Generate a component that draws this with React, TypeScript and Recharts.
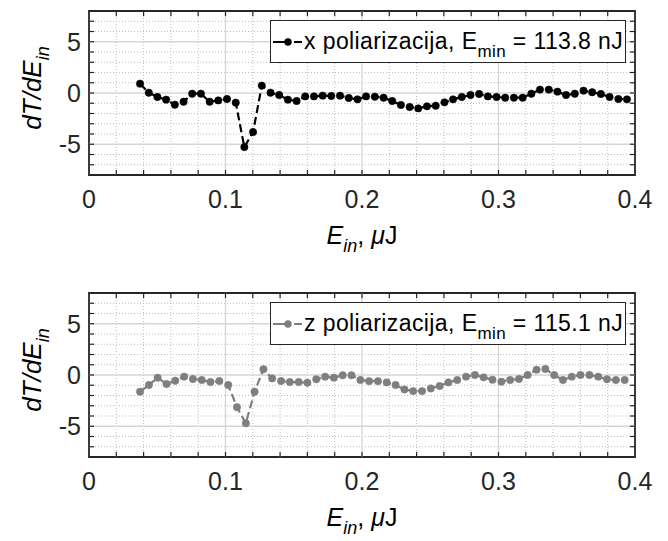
import { Legend, Line, LineChart, ReferenceArea, ReferenceLine, XAxis, YAxis } from 'recharts';

const FONT = '"Liberation Sans", Arial, Helvetica, sans-serif';

// x polarisation, pulse energy in uJ
const xTop = [
  0.0374, 0.0438, 0.0501, 0.0565, 0.0629, 0.0693, 0.0756, 0.082, 0.0884, 0.0947,
  0.1011, 0.1075, 0.1138, 0.1202, 0.1266, 0.133, 0.1393, 0.1457, 0.1521, 0.1584,
  0.1648, 0.1712, 0.1775, 0.1839, 0.1903, 0.1967, 0.203, 0.2094, 0.2158, 0.2221,
  0.2285, 0.2349, 0.2412, 0.2476, 0.254, 0.2604, 0.2667, 0.2731, 0.2795, 0.2858,
  0.2922, 0.2986, 0.3049, 0.3113, 0.3177, 0.3241, 0.3304, 0.3368, 0.3432, 0.3495,
  0.3559, 0.3623, 0.3686, 0.375, 0.3814, 0.3878, 0.3941,
];
const yTop = [
  0.91, 0.03, -0.39, -0.65, -1.14, -0.85, -0.07, -0.07, -0.85, -0.72,
  -0.59, -0.94, -5.28, -3.81, 0.72, 0.03, -0.2, -0.65, -0.78, -0.33,
  -0.33, -0.26, -0.29, -0.26, -0.49, -0.62, -0.33, -0.36, -0.46, -0.78,
  -1.17, -1.37, -1.5, -1.3, -1.24, -0.91, -0.62, -0.39, -0.2, -0.1,
  -0.33, -0.39, -0.46, -0.46, -0.46, -0.07, 0.33, 0.33, 0.13, -0.2,
  -0.07, 0.23, 0.07, -0.1, -0.39, -0.59, -0.62,
];

// z polarisation
const xBottom = [
  0.0374, 0.0439, 0.0503, 0.0568, 0.0632, 0.0697, 0.0761, 0.0826, 0.089, 0.0955,
  0.102, 0.1084, 0.1149, 0.1213, 0.1278, 0.1342, 0.1407, 0.1471, 0.1536, 0.16,
  0.1665, 0.173, 0.1794, 0.1859, 0.1923, 0.1988, 0.2052, 0.2117, 0.2181, 0.2246,
  0.2311, 0.2375, 0.244, 0.2504, 0.2569, 0.2633, 0.2698, 0.2762, 0.2827, 0.2891,
  0.2956, 0.3021, 0.3085, 0.315, 0.3214, 0.3279, 0.3343, 0.3408, 0.3472, 0.3537,
  0.3601, 0.3666, 0.3731, 0.3795, 0.386, 0.3924,
];
const yBottom = [
  -1.63, -0.98, -0.26, -0.88, -0.56, -0.16, -0.39, -0.49, -0.69, -0.59,
  -0.98, -3.14, -4.71, -1.63, 0.56, -0.33, -0.59, -0.69, -0.69, -0.75,
  -0.42, -0.16, -0.26, -0.03, -0.03, -0.49, -0.6, -0.6, -0.72, -0.98,
  -1.41, -1.57, -1.57, -1.31, -1.08, -0.72, -0.49, -0.16, 0, -0.23,
  -0.46, -0.65, -0.49, -0.39, 0, 0.52, 0.59, 0, -0.49, -0.16,
  0, 0, -0.16, -0.42, -0.49, -0.49,
];

const xTicks = [0, 0.1, 0.2, 0.3, 0.4];
const yTicks = [-5, 0, 5];
const xMinor = [
  0.02, 0.04, 0.06, 0.08, 0.12, 0.14, 0.16, 0.18, 0.22, 0.24,
  0.26, 0.28, 0.32, 0.34, 0.36, 0.38,
];
const yMinor = [-7, -6, -4, -3, -2, -1, 1, 2, 3, 4, 6, 7];

const X_DOMAIN = [0, 0.4];
const Y_DOMAIN = [-8, 8];
const PLOT_H = 164;
const AXIS_COLOR = '#262626';
// tick length, in data units (about 5px)
const TICK_Y = 0.5;
const TICK_X = 0.0037;

function LegendBox({ color, label, eMin }: { color: string; label: string; eMin: string }) {
  return (
    <div
      style={{
        width: 356,
        height: 43,
        boxSizing: 'border-box',
        border: `1.5px solid ${AXIS_COLOR}`,
        background: '#fff',
        display: 'flex',
        alignItems: 'center',
        fontFamily: FONT,
        fontSize: 23,
        color: '#000',
        whiteSpace: 'nowrap',
      }}
    >
      <svg width={31} height={14} style={{ marginLeft: 1, flex: 'none' }}>
        <line x1={1} y1={7} x2={30} y2={7} stroke={color} strokeWidth={2.2} strokeDasharray="15 6 9" />
        <circle cx={16} cy={7} r={3.7} fill={color} />
      </svg>
      <span style={{ marginLeft: 1, letterSpacing: 0.4 }}>
        {label}, E
        <span style={{ fontSize: 17, position: 'relative', top: 8 }}>min</span> = {eMin} nJ
      </span>
    </div>
  );
}

function XLabel({ viewBox }: any) {
  const cx = viewBox.x + viewBox.width / 2;
  const y = viewBox.y + 69;
  return (
    <text x={cx} y={y} textAnchor="middle" fontFamily={FONT} fontSize={25} fill="#000">
      <tspan fontStyle="italic">E</tspan>
      <tspan fontStyle="italic" fontSize={18} dy={8}>in</tspan>
      <tspan dy={-8}>, </tspan>
      <tspan fontStyle="italic">μ</tspan>
      <tspan>J</tspan>
    </text>
  );
}

function YLabel({ viewBox }: any) {
  const cx = 41;
  const cy = viewBox.y + viewBox.height / 2 - 5;
  return (
    <text
      x={cx}
      y={cy}
      transform={`rotate(-90, ${cx}, ${cy})`}
      textAnchor="middle"
      fontFamily={FONT}
      fontSize={26}
      fill="#000"
    >
      <tspan fontStyle="italic">dT/dE</tspan>
      <tspan fontStyle="italic" fontSize={18} dy={8}>in</tspan>
    </text>
  );
}

interface PanelProps {
  xs: number[];
  ys: number[];
  color: string;
  label: string;
  eMin: string;
  top: number;
  height: number;
}

function Panel({ xs, ys, color, label, eMin, top, height }: PanelProps) {
  const data = xs.map((x, i) => ({ x, y: ys[i] }));
  const tickStyle = { fontFamily: FONT, fontSize: 25, fill: '#262626' };
  return (
    <div style={{ position: 'absolute', left: 0, top }}>
      <LineChart width={668} height={height} data={data} margin={{ top: 11, right: 33, bottom: 0, left: 0 }}>
        <XAxis
          type="number"
          dataKey="x"
          domain={X_DOMAIN}
          ticks={xTicks}
          tickFormatter={(v) => String(v)}
          height={height - 11 - PLOT_H}
          axisLine={false}
          tickLine={false}
          tickSize={0}
          tickMargin={15}
          tick={tickStyle}
          label={{ content: XLabel }}
        />
        <YAxis
          type="number"
          domain={Y_DOMAIN}
          ticks={yTicks}
          width={89}
          axisLine={false}
          tickLine={false}
          tickSize={0}
          tickMargin={8}
          tick={tickStyle}
          label={{ content: YLabel }}
        />

        {xMinor.map((v) => (
          <ReferenceLine key={`gx${v}`} x={v} stroke="#bdbdbd" strokeWidth={1} strokeDasharray="1 2" />
        ))}
        {yMinor.map((v) => (
          <ReferenceLine key={`gy${v}`} y={v} stroke="#bdbdbd" strokeWidth={1} strokeDasharray="1 2" />
        ))}
        {xTicks.slice(1, -1).map((v) => (
          <ReferenceLine key={`Gx${v}`} x={v} stroke="#d6d6d6" strokeWidth={1.3} />
        ))}
        {yTicks.map((v) => (
          <ReferenceLine key={`Gy${v}`} y={v} stroke="#d6d6d6" strokeWidth={1.3} />
        ))}

        {[...xTicks.slice(1, -1), ...xMinor].map((v) => (
          <ReferenceLine
            key={`tb${v}`}
            segment={[{ x: v, y: Y_DOMAIN[0] }, { x: v, y: Y_DOMAIN[0] + TICK_Y }]}
            stroke={AXIS_COLOR}
            strokeWidth={1.2}
          />
        ))}
        {[...xTicks.slice(1, -1), ...xMinor].map((v) => (
          <ReferenceLine
            key={`tt${v}`}
            segment={[{ x: v, y: Y_DOMAIN[1] }, { x: v, y: Y_DOMAIN[1] - TICK_Y }]}
            stroke={AXIS_COLOR}
            strokeWidth={1.2}
          />
        ))}
        {[...yTicks, ...yMinor].map((v) => (
          <ReferenceLine
            key={`tl${v}`}
            segment={[{ x: X_DOMAIN[0], y: v }, { x: X_DOMAIN[0] + TICK_X, y: v }]}
            stroke={AXIS_COLOR}
            strokeWidth={1.2}
          />
        ))}
        {[...yTicks, ...yMinor].map((v) => (
          <ReferenceLine
            key={`tr${v}`}
            segment={[{ x: X_DOMAIN[1], y: v }, { x: X_DOMAIN[1] - TICK_X, y: v }]}
            stroke={AXIS_COLOR}
            strokeWidth={1.2}
          />
        ))}

        <Line
          type="linear"
          dataKey="y"
          stroke={color}
          strokeWidth={2.2}
          strokeDasharray="8 4"
          dot={{ r: 3.7, fill: color, stroke: color, strokeWidth: 0.5, strokeDasharray: '0' }}
          activeDot={false}
          isAnimationActive={false}
        />

        <ReferenceArea
          x1={X_DOMAIN[0]}
          x2={X_DOMAIN[1]}
          y1={Y_DOMAIN[0]}
          y2={Y_DOMAIN[1]}
          fill="none"
          fillOpacity={0}
          stroke={AXIS_COLOR}
          strokeWidth={1.8}
        />

        <Legend
          layout="horizontal"
          verticalAlign="middle"
          align="center"
          wrapperStyle={{ left: 270, top: 20, width: 356, height: 43 }}
          content={() => <LegendBox color={color} label={label} eMin={eMin} />}
        />
      </LineChart>
    </div>
  );
}

export default function App() {
  return (
    <div style={{ position: 'absolute', left: 0, top: 0, width: 668, height: 541, background: '#fff', overflow: 'hidden' }}>
      <Panel xs={xTop} ys={yTop} color="#000000" label="x poliarizacija" eMin="113.8" top={0} height={282} />
      <Panel xs={xBottom} ys={yBottom} color="#7f7f7f" label="z poliarizacija" eMin="115.1" top={282} height={259} />
    </div>
  );
}
